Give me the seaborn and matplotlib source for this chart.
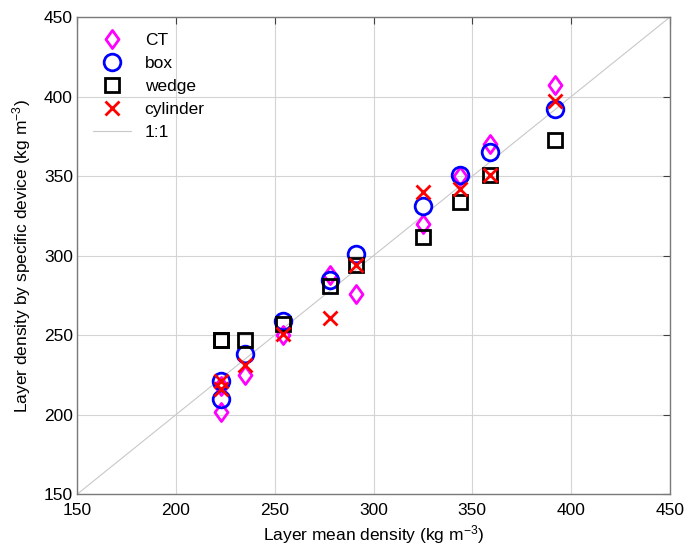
import numpy as np
import pandas as pd
import seaborn as sns
import matplotlib.pyplot as plt
from matplotlib.path import Path

# layer mean density (x) and density per device (y), kg m-3
mean_density = [223, 223, 235, 254, 278, 291, 325, 344, 359, 392]
ct = [202, 218, 225, 250, 288, 276, 320, 350, 370, 407]
box = [210, 221, 238, 259, 285, 301, 331, 351, 365, 392]
wedge = [247, 247, 247, 257, 281, 294, 312, 334, 351, 373]
cylinder = [216, 221, 231, 251, 261, 294, 340, 342, 351, 397]
one_to_one = [150, 450]

sns.set_style("whitegrid", {'text.color': 'black', 'axes.labelcolor': 'black',
                            'xtick.color': 'black', 'ytick.color': 'black'})
plt.rcParams['font.family'] = ['Liberation Sans', 'DejaVu Sans']
plt.rcParams['mathtext.default'] = 'regular'

# MATLAB style diamond (taller than wide)
diamond = Path([(0, 1), (0.72, 0), (0, -1), (-0.72, 0), (0, 1)],
               [Path.MOVETO, Path.LINETO, Path.LINETO, Path.LINETO, Path.CLOSEPOLY])

fig = plt.figure(figsize=(6.89, 5.5), dpi=100)
ax = fig.add_axes([0.1118, 0.1013, 0.8606, 0.8677])

sns.lineplot(x=one_to_one, y=one_to_one, ax=ax, color='#c8c8c8', linewidth=0.8,
             label='1:1', zorder=1)

series = [("CT", ct, diamond, '#ff00ff', 13),
          ("box", box, 'o', '#0000ff', 12),
          ("wedge", wedge, 's', 'black', 10),
          ("cylinder", cylinder, 'x', '#ff0000', 10)]
for name, vals, mk, col, ms in series:
    ax.plot(mean_density, vals, linestyle='none', marker=mk, markersize=ms,
            markerfacecolor='none', markeredgecolor=col, markeredgewidth=2,
            label=name, zorder=3)

ax.set_xlim(150, 450)
ax.set_ylim(150, 450)
ax.set_xticks(np.arange(150, 451, 50))
ax.set_yticks(np.arange(150, 451, 50))
ax.grid(True, color='#d4d4d4', linewidth=0.8)
for s in ax.spines.values():
    s.set_color('#7a7a7a')
    s.set_linewidth(1.0)
ax.tick_params(direction='in', length=5, width=0.8, color='#404040',
               labelcolor='black', top=True, right=True, labelsize=12.5)
ax.tick_params(axis='x', pad=6)
ax.tick_params(axis='y', pad=3)
ax.set_xlabel("Layer mean density (kg m$^{-3}$)", fontsize=12.5, labelpad=4)
ax.set_ylabel("Layer density by specific device (kg m$^{-3}$)", fontsize=12.5, labelpad=8)

h, l = ax.get_legend_handles_labels()
order = [1, 2, 3, 4, 0]
ax.legend([h[i] for i in order], [l[i] for i in order], loc='upper left',
          frameon=False, fontsize=12.5, labelspacing=0.45, handlelength=2.2,
          borderaxespad=0.5)

fig.savefig("out.png", dpi=100)
